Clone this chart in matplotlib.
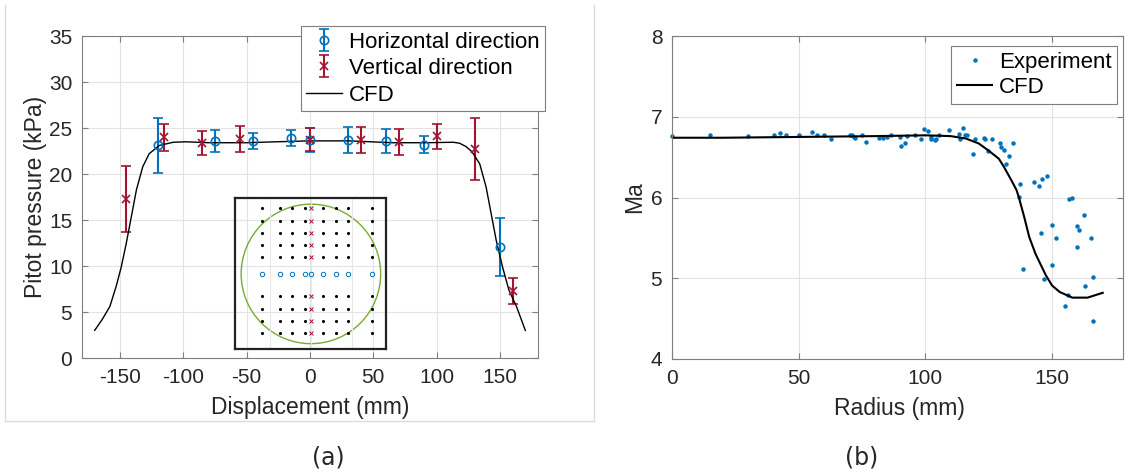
import matplotlib.pyplot as plt
from matplotlib.lines import Line2D
from matplotlib.patches import Circle
import numpy as np

plt.rcParams['font.family'] = ['Liberation Sans', 'DejaVu Sans']
plt.rcParams['axes.unicode_minus'] = False

BLUE = '#0072BD'
RED = '#A2142F'
GREEN = '#77AC30'
SPINE = '#7f7f7f'
TXT = '#262626'

# (a) pitot pressure across the nozzle exit
h_x = [-120, -75, -45, -15, 0, 30, 60, 90, 150]
h_p = [23.1, 23.6, 23.6, 23.9, 23.7, 23.7, 23.6, 23.2, 12.1]
h_err = [3.0, 1.2, 0.9, 0.9, 1.3, 1.4, 1.3, 0.9, 3.15]

v_x = [-145, -115, -85, -55, 0, 40, 70, 100, 130, 160]
v_p = [17.3, 24.0, 23.4, 23.8, 23.7, 23.7, 23.5, 24.1, 22.7, 7.3]
v_err = [3.6, 1.45, 1.3, 1.4, 1.25, 1.4, 1.4, 1.35, 3.35, 1.4]

cfd_x = [-170, -164, -158, -153, -149, -145, -141, -137, -132, -127, -119, -108,
         -98, -80, -50, -27, 0, 31, 65, 92, 113, 118, 123, 128, 134, 139, 143,
         147, 152, 157, 163, 170]
cfd_p = [3.0, 4.2, 5.6, 7.8, 9.9, 12.5, 15.4, 18.3, 20.8, 22.2, 23.1, 23.45,
         23.5, 23.4, 23.4, 23.5, 23.6, 23.6, 23.4, 23.4, 23.45, 23.35, 23.0, 22.4,
         21.1, 18.6, 15.7, 12.8, 9.9, 7.4, 5.6, 3.0]

# probe grid shown in the inset (mm)
grid_cols = [-120, -75, -45, -15, 30, 60, 90, 150]
grid_rows = [160, 130, 100, 70, 40, -55, -85, -115, -145]
nozzle_r = 170

# (b) Mach number vs radius
exp_r = [0, 15.1, 30.0, 40.1, 42.8, 45.1, 50.1, 55.3, 57.2, 60.1, 62.8, 70.4,
         71.1, 71.7, 72.4, 75.1, 76.4, 81.6, 83.3, 85.0, 86.6, 89.8, 90.2, 92.0,
         92.8, 96.0, 98.3, 99.6, 101.1, 102.3, 102.4, 103.8, 104.2, 105.3, 109.5,
         113.2, 113.7, 114.7, 115.6, 116.6, 118.7, 119.7, 123.3, 123.6, 124.7,
         126.3, 129.4, 130.0, 130.9, 131.8, 133.2, 134.4, 137.4, 137.0, 138.7,
         142.9, 144.9, 145.6, 146.0, 146.9, 147.9, 149.8, 149.9, 151.6, 155.0,
         156.1, 156.7, 157.8, 159.7, 160.0, 160.6, 162.6, 163.0, 165.4, 166.0,
         166.0]
exp_ma = [6.76, 6.78, 6.76, 6.77, 6.80, 6.77, 6.78, 6.81, 6.78, 6.78, 6.73, 6.77,
          6.78, 6.75, 6.74, 6.78, 6.69, 6.74, 6.74, 6.75, 6.77, 6.75, 6.64, 6.68,
          6.76, 6.77, 6.73, 6.85, 6.82, 6.75, 6.73, 6.71, 6.73, 6.77, 6.84,
          6.79, 6.72, 6.86, 6.78, 6.77, 6.54, 6.72, 6.74, 6.73, 6.57,
          6.73, 6.67, 6.62, 6.59, 6.42, 6.52, 6.68, 6.17, 6.01, 5.12,
          6.19, 6.14, 5.56, 6.23, 4.99, 6.27, 5.66, 5.16, 5.50, 4.66,
          4.79, 5.98, 5.99, 5.39, 5.65, 5.60, 5.78, 4.91, 5.50, 5.02,
          4.47]

r_cfd = [0, 20, 50, 80, 100, 110, 116, 121, 125, 129, 131, 134, 136, 137, 139,
         141, 143.5, 147.5, 150, 153, 158, 164, 170]
ma_cfd = [6.74, 6.74, 6.75, 6.76, 6.77, 6.76, 6.73, 6.67, 6.58, 6.48, 6.38, 6.21,
          6.09, 5.99, 5.76, 5.51, 5.30, 5.04, 4.91, 4.83, 4.76, 4.76, 4.82]


def style_axes(ax):
    ax.grid(True, color='#e3e3e3', lw=0.8)
    ax.set_axisbelow(True)
    for s in ax.spines.values():
        s.set_color(SPINE)
        s.set_linewidth(0.8)
    ax.tick_params(direction='in', length=4, width=0.8, color=SPINE,
                   labelsize=15, labelcolor=TXT, pad=7, top=True, right=True)


fig = plt.figure(figsize=(11.25, 4.74), dpi=100)
W, H = 1125, 474

ax1 = fig.add_axes([82 / W, 1 - 358 / H, 456 / W, 322 / H])
ax2 = fig.add_axes([672 / W, 1 - 359 / H, 451 / W, 323 / H])

# ---- (a)
style_axes(ax1)
eb_h = ax1.errorbar(h_x, h_p, yerr=h_err, fmt='o', color=BLUE, mfc='none', ms=6,
                    mew=1.2, elinewidth=1.5, capsize=3.5, capthick=1.5,
                    label='Horizontal direction')
eb_v = ax1.errorbar(v_x, v_p, yerr=v_err, fmt='x', color=RED, ms=6, mew=1.2,
                    elinewidth=1.5, capsize=3.5, capthick=1.5,
                    label='Vertical direction')
cfd1, = ax1.plot(cfd_x, cfd_p, color='k', lw=1.0, label='CFD')
ax1.set_xlim(-180, 180)
ax1.set_ylim(0, 35)
ax1.set_xticks([-150, -100, -50, 0, 50, 100, 150])
ax1.set_yticks(range(0, 36, 5))
ax1.set_xlabel('Displacement (mm)', fontsize=16.5, color=TXT, va='center')
ax1.set_ylabel('Pitot pressure (kPa)', fontsize=16.5, color=TXT, va='center')
ax1.xaxis.set_label_coords(0.5, -0.155)
ax1.yaxis.set_label_coords(-0.103, 0.5)
leg1 = ax1.legend(handles=[eb_h, eb_v, cfd1], loc='upper right',
                  bbox_to_anchor=(1.015, 1.031),
                  borderaxespad=0, fontsize=16, fancybox=False, framealpha=1,
                  edgecolor=SPINE, handlelength=1.6, handletextpad=0.3,
                  labelspacing=0.25, borderpad=0.25)
leg1.get_frame().set_linewidth(0.8)

# inset: probe locations over the nozzle exit
axi = fig.add_axes([235 / W, 1 - 349 / H, 151 / W, 151 / H])
axi.set_facecolor('none')
gx, gy = np.meshgrid(grid_cols, grid_rows)
axi.plot(gx.ravel(), gy.ravel(), 'k.', ms=2.5)
axi.plot(np.zeros(len(grid_rows)), grid_rows, 'x', color=RED, ms=3, mew=0.7)
axi.plot(h_x, np.zeros(len(h_x)), 'o', color=BLUE, mfc='none', ms=3.2, mew=0.7)
axi.add_patch(Circle((0, 0), nozzle_r, fill=False, color=GREEN, lw=1.0))
axi.set_xlim(-185, 183)
axi.set_ylim(-183, 185)
axi.set_xticks([-100, 0, 100])
axi.set_yticks([])
axi.grid(True, axis='x', color='#e8e8e8', lw=0.8)
axi.tick_params(length=0, labelbottom=False)
for s in axi.spines.values():
    s.set_color('#222222')
    s.set_linewidth(1.6)

# ---- (b)
style_axes(ax2)
ax2.plot(exp_r, exp_ma, 'o', color=BLUE, ms=3.2, mew=0, label='Experiment',
         clip_on=False)
ax2.plot(r_cfd, ma_cfd, color='k', lw=1.5, label='CFD')
ax2.set_xlim(0, 178)
ax2.set_ylim(4, 8)
ax2.set_xticks([0, 50, 100, 150])
ax2.set_yticks([4, 5, 6, 7, 8])
ax2.set_xlabel('Radius (mm)', fontsize=16.5, color=TXT, va='center')
ax2.set_ylabel('Ma', fontsize=16.5, color=TXT, va='center')
ax2.xaxis.set_label_coords(0.505, -0.152)
ax2.yaxis.set_label_coords(-0.082, 0.5)
leg2 = ax2.legend(loc='upper right', bbox_to_anchor=(0.987, 0.969),
                  borderaxespad=0, fontsize=16, fancybox=False, framealpha=1,
                  edgecolor=SPINE, handlelength=1.6, handletextpad=0.3,
                  labelspacing=0.2, borderpad=0.25)
leg2.get_frame().set_linewidth(0.8)

# panel captions
fig.text(328 / W, 1 - 457 / H, '(a)', fontsize=17, family='DejaVu Sans',
         ha='center', va='center', color=TXT)
fig.text(862 / W, 1 - 457 / H, '(b)', fontsize=17, family='DejaVu Sans',
         ha='center', va='center', color=TXT)

# light frame around panel (a)
x0, x1 = 5 / W, 594 / W
y0, y1 = 1 - 421 / H, 1 - 5 / H
fig.add_artist(Line2D([x0, x0, x1, x1], [y1, y0, y0, y1],
                      transform=fig.transFigure, color='#dcdcdc', lw=1.0))

fig.savefig('out.png', dpi=100)
